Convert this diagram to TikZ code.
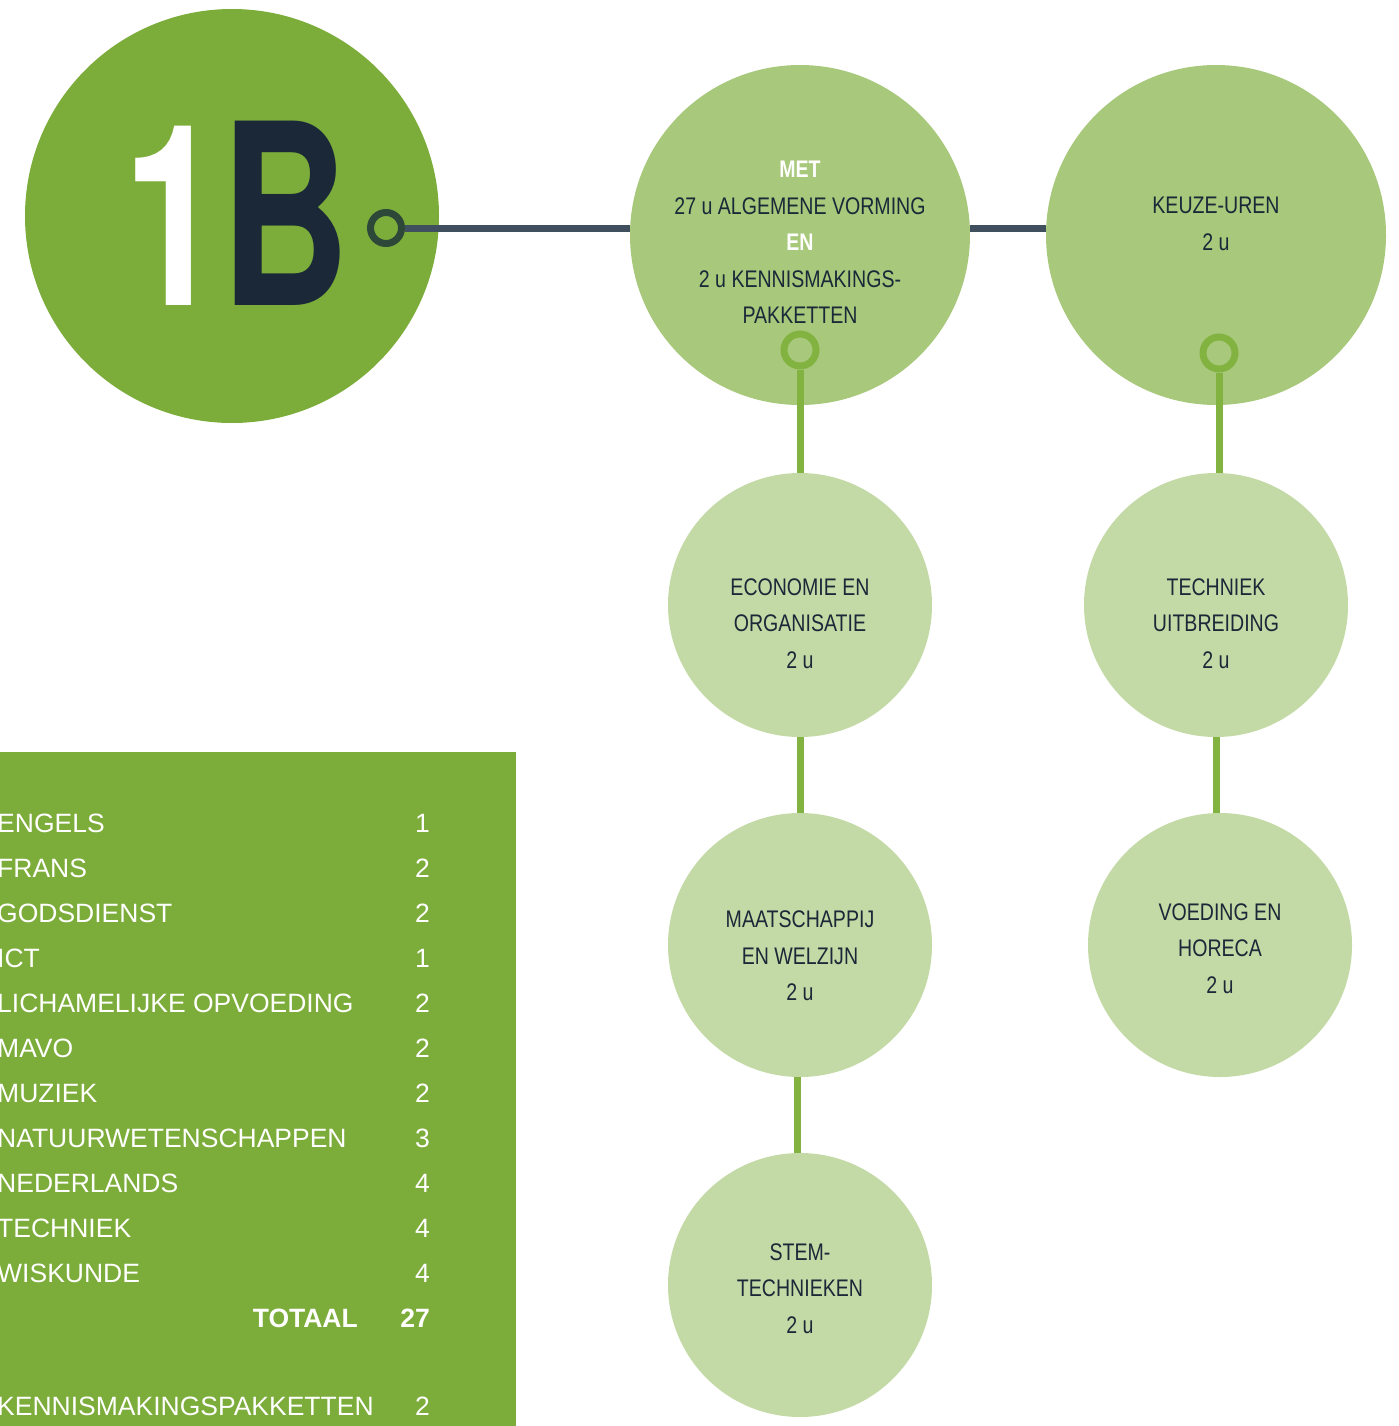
\documentclass[tikz,border=0pt]{standalone}
\usepackage{fontspec}
\setmainfont{Liberation Sans}
\newfontfamily\narrowfont[FakeStretch=0.815]{Liberation Sans}
\newfontfamily\bignarrow[FakeStretch=0.71]{TeX Gyre Heros}
\definecolor{maingreen}{HTML}{7CAC3A}
\definecolor{midgreen}{HTML}{A8C87C}
\definecolor{lightgreen}{HTML}{C4DAA6}
\definecolor{linkgreen}{HTML}{82B341}
\definecolor{slate}{HTML}{3F4F5E}
\definecolor{ringdark}{HTML}{2D4739}
\definecolor{navy}{HTML}{1A2838}
\tikzset{
  bigdisc/.style={circle, fill=maingreen, minimum size=414pt, inner sep=0pt},
  middisc/.style={circle, fill=midgreen, minimum size=340pt, inner sep=0pt},
  lightdisc/.style={circle, fill=lightgreen, minimum size=264pt, inner sep=0pt},
  darkring/.style={circle, draw=ringdark, line width=7pt, minimum size=31pt, inner sep=0pt},
  greenring/.style={circle, draw=linkgreen, line width=7pt, minimum size=32pt, inner sep=0pt},
  darklink/.style={draw=slate, line width=7pt},
  greenlink/.style={draw=linkgreen, line width=7pt},
  ctext/.style={align=center, text=navy, inner sep=0pt, font=\narrowfont\fontsize{24}{36.4}\selectfont},
  ttext/.style={text=white, inner sep=0pt, font=\fontsize{26.5}{30}\selectfont},
  bigtext/.style={anchor=base west, inner sep=0pt, font=\bignarrow\bfseries\fontsize{253}{253}\selectfont}
}
\begin{document}
\begin{tikzpicture}[x=1pt,y=-1pt]
\useasboundingbox (0,0) rectangle (1398,1426);
% big circle
\node[bigdisc] (big) at (232,216) {};
\node[bigtext, text=white] (one) at (123,305) {1};
\node[bigtext, text=navy] (bee) at (220,305) {B};
% level 1
\node[middisc] (A) at (800,235) {};
\node[middisc] (B) at (1216,235) {};
% level 2
\node[lightdisc] (C) at (800,605) {};
\node[lightdisc] (D) at (1216,605) {};
\node[lightdisc] (E) at (800,945) {};
\node[lightdisc] (F) at (1220,945) {};
\node[lightdisc] (G) at (800,1285) {};
% rings
\node[darkring] (r1) at (386,228) {};
\node[greenring] (rA) at (800,350) {};
\node[greenring] (rB) at (1219,353) {};
% connectors
\draw[darklink] (r1.east) -- (r1.east -| A.west);
\draw[darklink] (r1.east -| A.east) -- (r1.east -| B.west);
\draw[greenlink] (rA.south) -- (C.north);
\draw[greenlink] (rB.south) -- (rB.south |- D.north);
\draw[greenlink] (C.south) -- (E.north);
\draw[greenlink] (D.south) -- (D.south |- F.north);
\draw[greenlink] ([xshift=-3pt]E.south) -- ([xshift=-3pt]G.north);
% circle texts
\node[ctext] (tA) at (800,242.5) {{\bfseries\color{white}MET}\\27 u ALGEMENE VORMING\\{\bfseries\color{white}EN}\\2 u KENNISMAKINGS-\\PAKKETTEN};
\node[ctext] (tB) at (1216,224) {KEUZE-UREN\\2 u};
\node[ctext] (tC) at (800,623.5) {ECONOMIE EN\\ORGANISATIE\\2 u};
\node[ctext] (tD) at (1216,623.5) {TECHNIEK\\UITBREIDING\\2 u};
\node[ctext] (tE) at (800,956) {MAATSCHAPPIJ\\EN WELZIJN\\2 u};
\node[ctext] (tF) at (1220,948.5) {VOEDING EN\\HORECA\\2 u};
\node[ctext] (tG) at (800,1288.5) {STEM-\\TECHNIEKEN\\2 u};
% table
\fill[maingreen] (0,752) rectangle (516,1426);
\foreach \name/\num [count=\i] in {ENGELS/1, FRANS/2, GODSDIENST/2, ICT/1, LICHAMELIJKE OPVOEDING/2, MAVO/2, MUZIEK/2, NATUURWETENSCHAPPEN/3, NEDERLANDS/4, TECHNIEK/4, WISKUNDE/4}{
  \node[ttext, anchor=base west] (l\i) at (-3,{832.5+45*(\i-1)}) {\name};
  \node[ttext, anchor=base east] (n\i) at (430,{832.5+45*(\i-1)}) {\num};
}
\node[ttext, anchor=base east, font=\bfseries\fontsize{26.5}{30}\selectfont] (tot) at (358,1327.5) {TOTAAL};
\node[ttext, anchor=base east, font=\bfseries\fontsize{26.5}{30}\selectfont] (totn) at (430,1327.5) {27};
\node[ttext, anchor=base west] (kp) at (-3,1415.5) {KENNISMAKINGSPAKKETTEN};
\node[ttext, anchor=base east] (kpn) at (430,1415.5) {2};
\end{tikzpicture}
\end{document}
